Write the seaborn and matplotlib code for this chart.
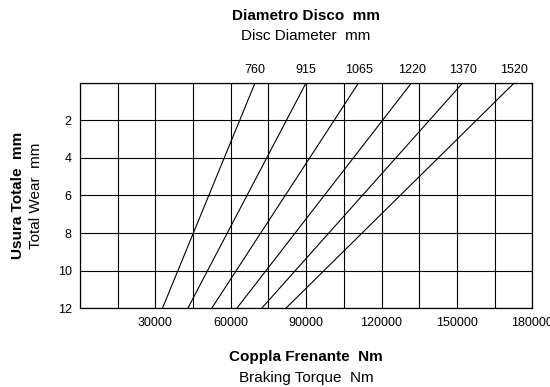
import numpy as np
import pandas as pd
import matplotlib
matplotlib.use("Agg")
import matplotlib.pyplot as plt
import seaborn as sns

# Data
diameters = ["760", "915", "1065", "1220", "1370", "1520"]
wear_levels = [0, 12]                                            # mm
torque_at_zero_wear = [69700, 90000, 110900, 132000, 152400, 172900]   # Nm
torque_at_max_wear = [32800, 42900, 52400, 62400, 72300, 81900]        # Nm
x_tick_values = [0, 15000, 30000, 45000, 60000, 75000, 90000, 105000,
                 120000, 135000, 150000, 165000, 180000]
x_tick_labels = ["", "", "30000", "", "60000", "", "90000", "",
                 "120000", "", "150000", "", "180000"]
y_tick_values = [0, 2, 4, 6, 8, 10, 12]
y_tick_labels = ["", "2", "4", "6", "8", "10", "12"]

rows = []
for d, t0, t12 in zip(diameters, torque_at_zero_wear, torque_at_max_wear):
    for w, t in zip(wear_levels, [t0, t12]):
        rows.append({"diameter": d, "wear": w, "torque": t})
df = pd.DataFrame(rows)

sns.set_theme(style="white")
plt.rcParams["font.family"] = ["Liberation Sans", "DejaVu Sans"]
plt.rcParams["text.color"] = "black"
plt.rcParams["xtick.color"] = "black"
plt.rcParams["ytick.color"] = "black"

fig = plt.figure(figsize=(5.5, 3.87), dpi=100)
ax = fig.add_axes([80 / 550, 1 - 308.3 / 387, (532.3 - 80) / 550, (308.3 - 82.7) / 387])

sns.lineplot(data=df, x="torque", y="wear", units="diameter", estimator=None,
             sort=False, color="black", linewidth=0.8, ax=ax, legend=False)

ax.set_xlim(0, 180000)
ax.set_ylim(12, 0)
ax.set_xticks(x_tick_values)
ax.set_xticklabels(x_tick_labels, fontsize=9, color="black")
ax.set_yticks(y_tick_values)
ax.set_yticklabels(y_tick_labels, fontsize=9, color="black")
ax.tick_params(axis="both", length=0)
ax.tick_params(axis="x", pad=6)
ax.tick_params(axis="y", pad=6)
ax.grid(True, color="black", linewidth=0.8)
for s in ax.spines.values():
    s.set_color("black")
    s.set_linewidth(0.9)
ax.set_xlabel("")
ax.set_ylabel("")

# Diameter labels at the top end of each line
trans = matplotlib.transforms.blended_transform_factory(ax.transData, ax.transAxes)
for d, t0 in zip(diameters, torque_at_zero_wear):
    ax.text(t0, 1.056, d, transform=trans, ha="center", va="center", fontsize=9,
            color="black")

cx = (80 + 532.3) / 2 / 550
fig.text(cx, 1 - 16 / 387, "Diametro Disco  mm", ha="center", va="center",
         fontsize=11, fontweight="bold", color="black")
fig.text(cx, 1 - 36 / 387, "Disc Diameter  mm", ha="center", va="center", fontsize=11,
         color="black")
fig.text(cx, 1 - 357 / 387, "Coppla Frenante  Nm", ha="center", va="center",
         fontsize=11, fontweight="bold", color="black")
fig.text(cx, 1 - 378 / 387, "Braking Torque  Nm", ha="center", va="center", fontsize=11,
         color="black")
cy = 1 - 195.5 / 387
fig.text(18 / 550, cy, "Usura Totale  mm", ha="center", va="center", rotation=90,
         fontsize=11, fontweight="bold", color="black")
fig.text(36 / 550, cy, "Total Wear  mm", ha="center", va="center", rotation=90,
         fontsize=11, color="black")

fig.savefig("out.png", dpi=100)
